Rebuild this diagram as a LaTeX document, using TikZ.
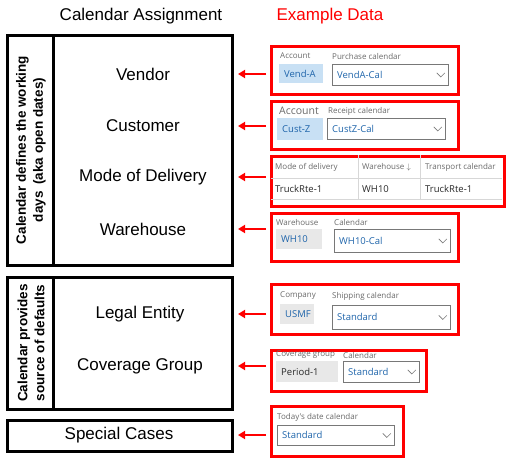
\documentclass[tikz,border=0pt]{standalone}
\usepackage{fontspec}
\setmainfont{Liberation Sans}
\newfontfamily\uifont{Open Sans}
\usepackage{xcolor}
\usepackage{tikz}
\usetikzlibrary{arrows.meta}
\definecolor{uiblue}{RGB}{30,100,170}
\definecolor{uigray}{RGB}{105,105,105}
\definecolor{uidark}{RGB}{40,40,40}
\definecolor{uiline}{RGB}{120,120,120}
\definecolor{uifill}{RGB}{232,232,232}
\definecolor{uiblfill}{RGB}{200,224,244}
\definecolor{uigrid}{RGB}{215,215,215}

\begin{document}
\begin{tikzpicture}[x=1pt,y=-1pt,
	item/.style={font=\fontsize{17}{17}\selectfont},
	side/.style={rotate=90,align=center,font=\fontsize{13.5}{17}\selectfont\bfseries},
	frame/.style={line width=3pt},
	exbox/.style={draw=red,line width=3pt,anchor=north west,inner sep=0pt},
	lbl/.style={anchor=west,inner sep=0pt,text=uigray,font=\uifont\fontsize{8}{8}\selectfont},
	val/.style={anchor=west,inner sep=0pt,text=uiblue,font=\uifont\fontsize{9.5}{9.5}\selectfont},
	cell/.style={anchor=west,inner sep=0pt,text=uidark,font=\uifont\fontsize{9.5}{9.5}\selectfont},
	field/.style={anchor=north west,inner sep=0pt,fill=uifill},
	drop/.style={draw=uiline,line width=0.8pt,anchor=north west,inner sep=0pt},
	chev/.style={uiline,line width=0.6pt},
	arr/.style={red,line width=2pt,-{Triangle[length=7pt,width=8pt]}}]
	\useasboundingbox (0,0) rectangle (512,466);

	\node[item] (assign) at (141,16) {Calendar Assignment};
	\node[item,red] (example) at (330,16) {Example Data};

	\draw[frame] (7,35) rectangle (232,265);
	\draw[frame] (53,35) -- (53,265);
	\draw[frame] (7,277) rectangle (232,409);
	\draw[frame] (53,277) -- (53,409);
	\draw[frame] (7,420) rectangle (232,451);

	\node[side] (workdays) at (31,150) {Calendar defines the working\\days\enspace(aka open dates)};
	\node[side] (defaults) at (31,343) {Calendar provides\\source of defaults};

	\node[item] (vendor) at (143,74) {Vendor};
	\node[item] (customer) at (143,126) {Customer};
	\node[item] (delivery) at (143,177) {Mode of Delivery};
	\node[item] (warehouse) at (143,229) {Warehouse};
	\node[item] (legal) at (140,314) {Legal Entity};
	\node[item] (coverage) at (140,366) {Coverage Group};
	\node[item] (special) at (119,435) {Special Cases};

	\node[exbox,minimum width=187pt,minimum height=48pt] (ex1) at (270,45) {};
	\node[lbl] at (280,56) {Account};
	\node[field,fill=uiblfill,minimum width=44pt,minimum height=19pt] (vendacct) at (279,64) {};
	\node[val] at ([xshift=5pt]vendacct.west) {Vend-A};
	\node[lbl] at (332,56) {Purchase calendar};
	\node[drop,minimum width=116pt,minimum height=21pt] (vendcal) at (332,64) {};
	\node[val] at ([xshift=5pt]vendcal.west) {VendA-Cal};
	\draw[chev] ([xshift=-12pt,yshift=2pt]vendcal.east) -- ++(4,4) -- ++(4,-4);

	\node[exbox,minimum width=187pt,minimum height=48pt] (ex2) at (270,100) {};
	\node[lbl,font=\uifont\fontsize{10.5}{10.5}\selectfont] at (279,111) {Account};
	\node[field,fill=uiblfill,minimum width=46pt,minimum height=22pt] (custacct) at (277,118) {};
	\node[val] at ([xshift=5pt]custacct.west) {Cust-Z};
	\node[lbl] at (328,111) {Receipt calendar};
	\node[drop,minimum width=118pt,minimum height=21pt] (custcal) at (327,118) {};
	\node[val] at ([xshift=5pt]custcal.west) {CustZ-Cal};
	\draw[chev] ([xshift=-12pt,yshift=2pt]custcal.east) -- ++(4,4) -- ++(4,-4);

	\node[exbox,minimum width=233pt,minimum height=50pt] (ex3) at (270,155) {};
	\draw[uigrid] (271,178) -- (502,178);
	\draw[uigrid] (271,199) -- (502,199);
	\draw[uigrid] (358,155) -- (358,199);
	\draw[uigrid] (420,155) -- (420,199);
	\node[lbl] at (275,167) {Mode of delivery};
	\node[lbl] at (362,167) {Warehouse $\downarrow$};
	\node[lbl] at (425,167) {Transport calendar};
	\node[cell] at (275,189) {TruckRte-1};
	\node[cell] at (362,189) {WH10};
	\node[cell] at (425,189) {TruckRte-1};

	\node[exbox,minimum width=187pt,minimum height=48pt] (ex4) at (270,212) {};
	\node[lbl] at (276,222) {Warehouse};
	\node[field,minimum width=46pt,minimum height=20pt] (whid) at (276,229) {};
	\node[val] at ([xshift=5pt]whid.west) {WH10};
	\node[lbl] at (334,222) {Calendar};
	\node[drop,minimum width=116pt,minimum height=23pt] (whcal) at (334,229) {};
	\node[val] at ([xshift=5pt]whcal.west) {WH10-Cal};
	\draw[chev] ([xshift=-12pt,yshift=2pt]whcal.east) -- ++(4,4) -- ++(4,-4);

	\node[exbox,minimum width=187pt,minimum height=50pt] (ex5) at (270,283) {};
	\node[lbl] at (280,296) {Company};
	\node[field,minimum width=34pt,minimum height=20pt] (company) at (280,304) {};
	\node[val] at ([xshift=5pt]company.west) {USMF};
	\node[lbl] at (332,296) {Shipping calendar};
	\node[drop,minimum width=118pt,minimum height=24pt] (shipcal) at (332,305) {};
	\node[val] at ([xshift=5pt]shipcal.west) {Standard};
	\draw[chev] ([xshift=-12pt,yshift=2pt]shipcal.east) -- ++(4,4) -- ++(4,-4);

	\node[exbox,minimum width=155pt,minimum height=41pt] (ex6) at (270,349) {};
	\node[lbl] at (276,355) {Coverage group};
	\node[field,minimum width=62pt,minimum height=21pt] (covgroup) at (276,361) {};
	\node[cell] at ([xshift=5pt]covgroup.west) {Period-1};
	\node[lbl] at (343,355) {Calendar};
	\node[drop,minimum width=76pt,minimum height=21pt] (covcal) at (343,361) {};
	\node[val] at ([xshift=5pt]covcal.west) {Standard};
	\draw[chev] ([xshift=-12pt,yshift=2pt]covcal.east) -- ++(4,4) -- ++(4,-4);

	\node[exbox,minimum width=132pt,minimum height=50pt] (ex7) at (270,405) {};
	\node[lbl] at (277,417) {Today's date calendar};
	\node[drop,minimum width=117pt,minimum height=20pt] (todaycal) at (277,425) {};
	\node[val] at ([xshift=5pt]todaycal.west) {Standard};
	\draw[chev] ([xshift=-12pt,yshift=2pt]todaycal.east) -- ++(4,4) -- ++(4,-4);

	\coordinate (tip) at (238,0);
	\foreach \n/\e in {vendor/ex1,customer/ex2,delivery/ex3,warehouse/ex4,legal/ex5,coverage/ex6,special/ex7}
		\draw[arr] ([xshift=-4pt]\e.west |- \n) -- (\n -| tip);
\end{tikzpicture}
\end{document}
